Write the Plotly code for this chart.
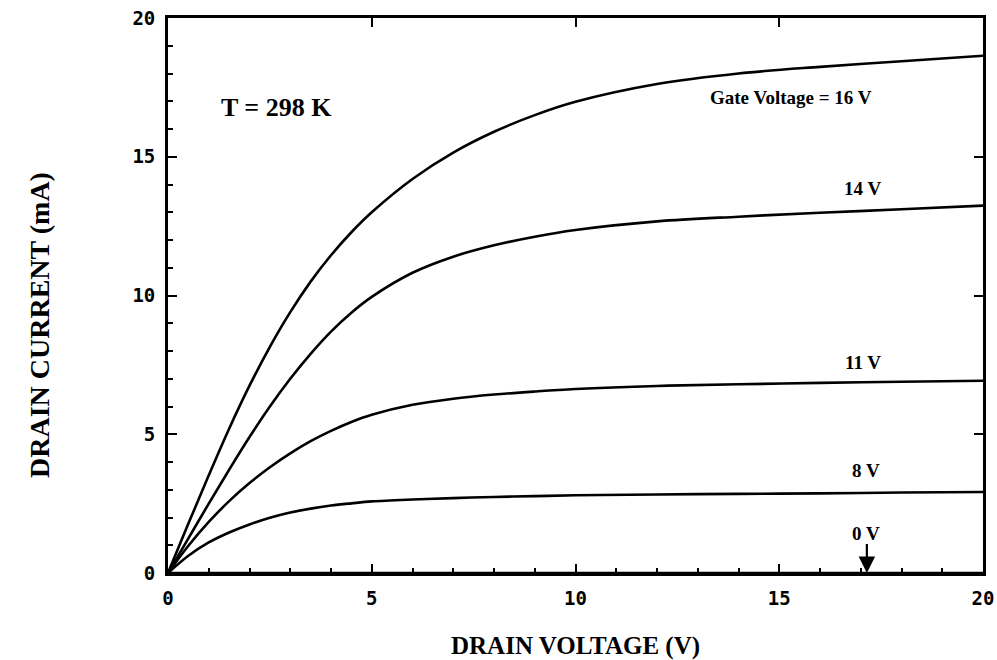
import plotly.graph_objects as go

# Drain voltage grid (V)
drain_v = [0, 0.5, 1, 1.5, 2, 2.5, 3, 3.5, 4, 4.5, 5, 6, 7, 8, 9, 10, 12, 14, 16, 18, 20]

# Drain current (mA) for each gate voltage
i_16v = [0, 1.78, 3.52, 5.2, 6.75, 8.15, 9.4, 10.5, 11.45, 12.28, 13.0, 14.2, 15.15, 15.9, 16.5, 16.98, 17.62, 18.0, 18.24, 18.44, 18.64]
i_14v = [0, 1.25, 2.5, 3.72, 4.9, 6.0, 7.0, 7.9, 8.7, 9.38, 9.95, 10.82, 11.4, 11.81, 12.12, 12.36, 12.67, 12.84, 12.98, 13.11, 13.24]
i_11v = [0, 0.98, 1.84, 2.59, 3.24, 3.81, 4.31, 4.75, 5.12, 5.44, 5.7, 6.06, 6.28, 6.43, 6.54, 6.63, 6.74, 6.8, 6.85, 6.89, 6.93]
i_8v = [0, 0.62, 1.1, 1.46, 1.75, 1.99, 2.18, 2.32, 2.43, 2.51, 2.58, 2.65, 2.7, 2.74, 2.77, 2.8, 2.83, 2.85, 2.87, 2.9, 2.92]
i_0v = [0] * len(drain_v)

series = [("16 V", i_16v), ("14 V", i_14v), ("11 V", i_11v), ("8 V", i_8v)]

# Curve labels (text, x, y in data units)
label_text = ["Gate Voltage = 16 V", "14 V", "11 V", "8 V", "0 V"]
label_x = [15.3, 17.05, 17.05, 17.12, 17.12]
label_y = [17.15, 13.87, 7.6, 3.71, 1.44]
arrow_x = 17.15
temp_text = "T = 298 K"

tick_vals = [0, 5, 10, 15, 20]
tick_text = ["0", "5", "10", "15", "20"]

serif = "Liberation Serif"
mono = "DejaVu Sans Mono"

fig = go.Figure()
for name, vals in series:
    fig.add_trace(go.Scatter(x=drain_v, y=vals, mode="lines", name=name,
                             line=dict(color="black", width=2.6, shape="spline", smoothing=1.0),
                             hoverinfo="skip"))
fig.add_trace(go.Scatter(x=drain_v, y=i_0v, mode="lines", name="0 V",
                         line=dict(color="black", width=2.6),
                         xaxis="x2", yaxis="y2", hoverinfo="skip"))

axis_common = dict(range=[0, 20], tickvals=tick_vals, ticktext=tick_text,
                   ticks="inside", ticklen=9, tickwidth=2.2, tickcolor="black",
                   showgrid=False, zeroline=False, automargin=False,
                   showline=True, linecolor="black", linewidth=2.8, mirror=True,
                   tickfont=dict(family=mono, size=19, color="black", weight="bold"),
                   minor=dict(dtick=1, ticks="inside", ticklen=5, tickwidth=1.8, tickcolor="black"))

overlay_common = dict(range=[0, 20], tickvals=tick_vals,
                      ticks="inside", ticklen=9, tickwidth=2.2, tickcolor="black",
                      showticklabels=False, showgrid=False, zeroline=False, showline=False,
                      automargin=False)

fig.update_layout(
    width=997, height=660,
    margin=dict(l=168, r=14, t=18, b=87),
    paper_bgcolor="white", plot_bgcolor="white",
    showlegend=False,
    xaxis=dict(**axis_common, ticklabelstandoff=6),
    yaxis=dict(**axis_common, ticklabelstandoff=6),
    xaxis2=dict(**overlay_common, overlaying="x", side="top", matches="x"),
    yaxis2=dict(**overlay_common, overlaying="y", side="right", matches="y"),
)

ann = []
for t, x, y in zip(label_text, label_x, label_y):
    ann.append(dict(x=x, y=y, xref="x", yref="y", text=t, showarrow=False,
                    font=dict(family=serif, size=19, color="black", weight="bold"),
                    xanchor="center", yanchor="middle"))
ann.append(dict(x=2.67, y=16.76, xref="x", yref="y", text=temp_text, showarrow=False,
                font=dict(family=serif, size=26, color="black", weight="bold"),
                xanchor="center", yanchor="middle"))
ann.append(dict(x=arrow_x, y=0, xref="x", yref="y", ax=arrow_x, ay=1.1, axref="x", ayref="y",
                text="", showarrow=True, arrowhead=2, arrowsize=1.5, arrowwidth=2.2,
                arrowcolor="black"))
ann.append(dict(x=0.5, y=-0.1315, xref="paper", yref="paper", text="DRAIN VOLTAGE (V)",
                showarrow=False, font=dict(family=serif, size=25, color="black", weight="bold"),
                xanchor="center", yanchor="middle"))
ann.append(dict(x=(39 - 168) / 815, y=(573 - 325) / 555, xref="paper", yref="paper",
                text="DRAIN CURRENT (mA)", textangle=-90, showarrow=False,
                font=dict(family=serif, size=28, color="black", weight="bold"),
                xanchor="center", yanchor="middle"))
fig.update_layout(annotations=ann)

fig.write_html("out.html")
